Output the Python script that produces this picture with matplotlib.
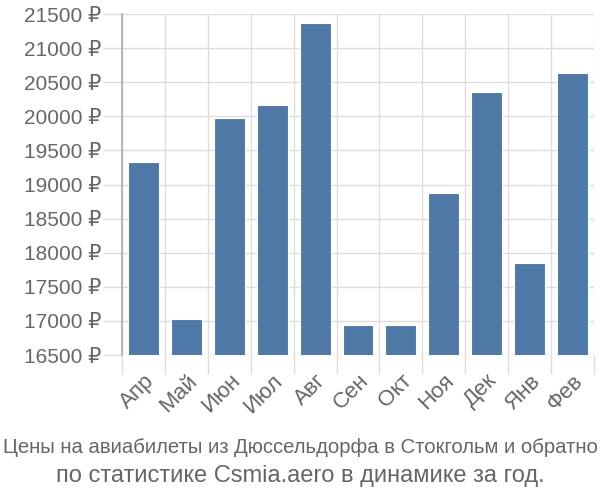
import matplotlib.pyplot as plt
from matplotlib import font_manager
import numpy as np

# Данные
months = ["Апр", "Май", "Июн", "Июл", "Авг", "Сен", "Окт", "Ноя", "Дек", "Янв", "Фев"]
prices = [19335, 17025, 19980, 20165, 21365, 16935, 16935, 18870, 20350, 17850, 20630]
yticks = [16500, 17000, 17500, 18000, 18500, 19000, 19500, 20000, 20500, 21000, 21500]

plt.rcParams['font.family'] = ['Liberation Sans', 'DejaVu Sans']

# узкий шрифт для первой строки подписи, если есть
names = set(f.name for f in font_manager.fontManager.ttflist)
if 'Liberation Sans Narrow' in names:
    narrow = ['Liberation Sans Narrow', 'DejaVu Sans']
    size1 = 17
else:
    narrow = ['Liberation Sans', 'DejaVu Sans']
    size1 = 14.6

fig = plt.figure(figsize=(6, 5), dpi=100)
ax = fig.add_axes([122/600, 145/500, 472/600, 341/500])

x = np.arange(len(months))
ax.bar(x, prices, width=0.72, color='#4e78a6', edgecolor='white', linewidth=0.8, zorder=3)

ax.set_ylim(16500, 21500)
ax.set_xlim(-0.5, len(months) - 0.5)

ax.set_yticks(yticks)
ax.set_yticklabels([f"{v} ₽" for v in yticks])
ax.set_xticks(x)
ax.set_xticklabels(months, rotation=45, ha='right', rotation_mode='anchor')
ax.set_xticks(np.arange(-0.5, len(months)), minor=True)

ax.tick_params(axis='y', length=14, color='#dddddd', width=1, labelsize=15, labelcolor='#666666', pad=1)
ax.tick_params(axis='x', which='major', length=0, labelsize=16, labelcolor='#666666', pad=11)
ax.tick_params(axis='x', which='minor', length=14, color='#dddddd', width=1)
for lbl in ax.get_xticklabels():
    lbl.set_x(lbl.get_position()[0])

ax.grid(axis='y', color='#dddddd', linewidth=1, zorder=0)
ax.grid(axis='x', which='minor', color='#dddddd', linewidth=1, zorder=0)

for s in ['top', 'right', 'bottom']:
    ax.spines[s].set_visible(False)
ax.spines['left'].set_color('#aaaaaa')
ax.spines['left'].set_linewidth(1.2)

fig.text(0.5, 0.094, "Цены на авиабилеты из Дюссельдорфа в Стокгольм и обратно",
         ha='center', va='baseline', fontsize=size1, color='#666666', family=narrow)
fig.text(0.5, 0.036, "по статистике Csmia.aero в динамике за год.",
         ha='center', va='baseline', fontsize=17, color='#666666')

fig.savefig("out.png", dpi=100)
